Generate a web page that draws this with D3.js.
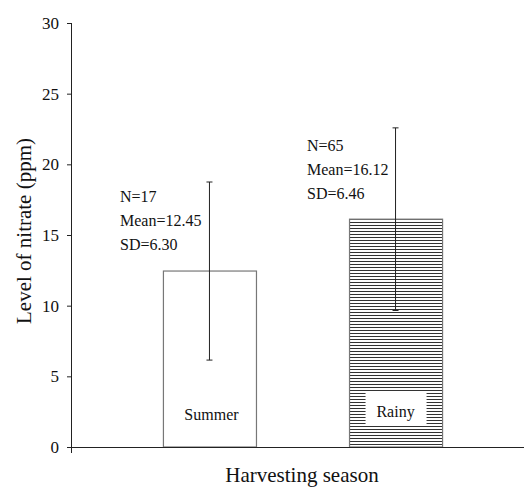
<!DOCTYPE html>
<html>
<head>
<meta charset="utf-8">
<script src="https://cdn.jsdelivr.net/npm/d3@7"></script>
<style>
  body { margin: 0; background: #fff; }
  svg text { font-family: "Liberation Serif", "Times New Roman", serif; fill: #111; }
</style>
</head>
<body>
<div class="chart"></div>
<script>
// data
var seasons = ["Summer", "Rainy"];
var means = [12.45, 16.12];
var sds = [6.30, 6.46];
var counts = [17, 65];
var yTicks = [0, 5, 10, 15, 20, 25, 30];

var W = 524, H = 488;
var x0 = 71, x1 = 534, yTop = 23, yBot = 447;

var svg = d3.select(".chart").append("svg")
  .attr("width", W)
  .attr("height", H);

var x = d3.scaleBand().domain(seasons).range([x0, x1]).paddingInner(0.5).paddingOuter(0.494),
    y = d3.scaleLinear().domain([0, 30]).range([yBot, yTop]);

// hatch for the rainy bar, one dark row every 3px
var defs = svg.append("defs");
var pat = defs.append("pattern")
  .attr("id", "hatch")
  .attr("patternUnits", "userSpaceOnUse")
  .attr("width", 6).attr("height", 3);
pat.append("rect").attr("width", 6).attr("height", 3).attr("fill", "#fff");
pat.append("rect").attr("width", 6).attr("height", 1).attr("y", 0)
  .attr("fill", "#333").attr("shape-rendering", "crispEdges");

var data = seasons.map(function(s, i) {
  return {season: s, mean: means[i], sd: sds[i], n: counts[i]};
});

// bars
svg.selectAll(".bar")
  .data(data)
  .enter().append("rect")
    .attr("class", "bar")
    .attr("x", function(d) { return x(d.season) + 0.5; })
    .attr("y", function(d) { return y(d.mean); })
    .attr("width", x.bandwidth())
    .attr("height", function(d) { return yBot - y(d.mean); })
    .attr("fill", function(d, i) { return i == 1 ? "url(#hatch)" : "#fff"; })
    .attr("stroke", "#777")
    .attr("stroke-width", 1.2);

// white box behind the rainy label
var cx = function(d) { return x(d.season) + x.bandwidth() / 2; };
svg.append("rect")
  .attr("x", cx(data[1]) - 30)
  .attr("y", 392)
  .attr("width", 61)
  .attr("height", 33)
  .attr("fill", "#fff");

svg.selectAll(".barlabel")
  .data(data)
  .enter().append("text")
    .attr("class", "barlabel")
    .attr("x", function(d, i) { return cx(d) + (i == 0 ? 2 : 0); })
    .attr("y", function(d, i) { return i == 0 ? 420 : 417; })
    .attr("text-anchor", "middle")
    .style("font-size", "16px")
    .text(function(d) { return d.season; });

// error bars
var eb = svg.selectAll(".err")
  .data(data)
  .enter().append("g")
    .attr("class", "err")
    .attr("stroke", "#222")
    .attr("stroke-width", 1);
eb.append("line")
  .attr("x1", cx).attr("x2", cx)
  .attr("y1", function(d) { return y(d.mean + d.sd); })
  .attr("y2", function(d) { return y(d.mean - d.sd); });
eb.append("line")
  .attr("x1", function(d) { return cx(d) - 3; }).attr("x2", function(d) { return cx(d) + 3; })
  .attr("y1", function(d) { return y(d.mean + d.sd); })
  .attr("y2", function(d) { return y(d.mean + d.sd); });
eb.append("line")
  .attr("x1", function(d) { return cx(d) - 3; }).attr("x2", function(d) { return cx(d) + 3; })
  .attr("y1", function(d) { return y(d.mean - d.sd); })
  .attr("y2", function(d) { return y(d.mean - d.sd); });

// stats annotations
var ann = svg.selectAll(".ann")
  .data(data)
  .enter().append("text")
    .attr("class", "ann")
    .style("font-size", "16px")
    .attr("transform", function(d, i) {
      return i == 0 ? "translate(120,202)" : "translate(307,151)";
    });
ann.selectAll("tspan")
  .data(function(d) {
    return ["N=" + d.n, "Mean=" + d.mean.toFixed(2), "SD=" + d.sd.toFixed(2)];
  })
  .enter().append("tspan")
    .attr("x", 0)
    .attr("y", function(d, i) { return i * 24; })
    .text(function(d) { return d; });

// y axis
var yA = d3.axisLeft(y).tickValues(yTicks).tickSize(4).tickPadding(8);
var gy = svg.append("g")
  .attr("transform", "translate(" + x0 + ",0)")
  .call(yA);
gy.select(".domain").remove();
gy.append("line").attr("x1", 0.5).attr("x2", 0.5).attr("y1", yTop).attr("y2", yBot + 6)
  .attr("stroke", "#222");
gy.selectAll(".tick line").attr("stroke", "#222");
gy.selectAll(".tick text")
  .style("font-size", "17px")
  .style("font-family", "'Liberation Serif', serif")
  .attr("fill", "#111");

// x axis line
svg.append("line")
  .attr("x1", x0).attr("x2", W)
  .attr("y1", yBot + 0.5).attr("y2", yBot + 0.5)
  .attr("stroke", "#222");

// axis titles
svg.append("text")
  .attr("transform", "translate(31," + 231 + ") rotate(-90)")
  .attr("text-anchor", "middle")
  .style("font-size", "21px")
  .text("Level of nitrate (ppm)");

svg.append("text")
  .attr("x", 302)
  .attr("y", 482)
  .attr("text-anchor", "middle")
  .style("font-size", "21px")
  .text("Harvesting season");
</script>
</body>
</html>
